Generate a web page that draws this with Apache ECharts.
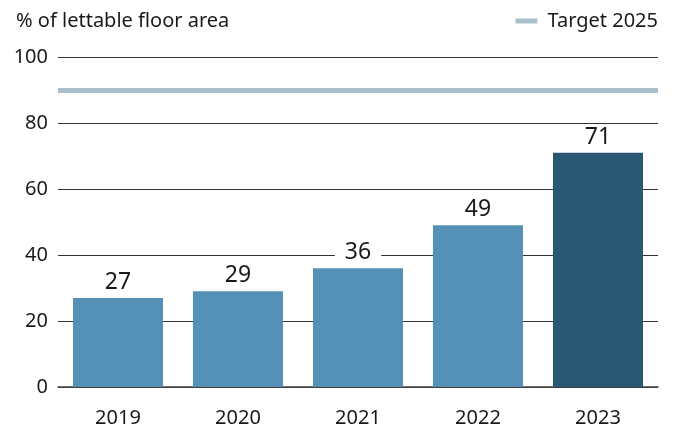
<!DOCTYPE html>
<html>
<head>
<meta charset="utf-8">
<script src="https://cdn.jsdelivr.net/npm/echarts@6/dist/echarts.min.js"></script>
<style>
  html, body { margin: 0; padding: 0; background: #fff; }
  #chart { width: 676px; height: 430px; }
</style>
</head>
<body>
<div id="chart"></div>
<script>
// Share of lettable floor area, by year
const years = ['2019', '2020', '2021', '2022', '2023'];
const shares = [27, 29, 36, 49, 71];
const target2025 = 90;
const yTicks = [0, 20, 40, 60, 80, 100];

const FONT = '"Noto Sans", "Open Sans", sans-serif';
const LIGHT = '#5591b6';
const DARK = '#2a5771';
const TARGET = '#a9bfcc';
const INK = '#1a1a1a';

const chart = echarts.init(document.getElementById('chart'));
chart.setOption({
  animation: false,
  textStyle: { fontFamily: FONT },
  title: {
    text: '% of lettable floor area',
    left: 11,
    top: 6,
    textStyle: { fontFamily: FONT, fontSize: 20, fontWeight: 'normal', color: INK }
  },
  legend: {
    right: 13,
    top: 6,
    data: [{ name: 'Target 2025', icon: 'rect' }],
    itemWidth: 22,
    itemHeight: 5,
    itemGap: 10,
    textStyle: { fontFamily: FONT, fontSize: 20, color: INK, padding: [0, 0, 0, 5] }
  },
  grid: { left: 58, right: 18, top: 57, bottom: 43 },
  xAxis: {
    type: 'category',
    data: years,
    axisTick: { show: false },
    axisLine: { show: true, lineStyle: { color: '#444', width: 1.5 } },
    axisLabel: { fontFamily: FONT, fontSize: 20, color: INK, margin: 21 }
  },
  yAxis: {
    type: 'value',
    min: yTicks[0],
    max: yTicks[yTicks.length - 1],
    interval: yTicks[1] - yTicks[0],
    axisLine: { show: false },
    axisTick: { show: false },
    axisLabel: { fontFamily: FONT, fontSize: 20, color: INK, margin: 10 },
    splitLine: { lineStyle: { color: '#333', width: 1 } }
  },
  series: [
    {
      name: 'Share',
      type: 'bar',
      barWidth: '75%',
      data: shares.map((v, i) => ({
        value: v,
        itemStyle: { color: i === shares.length - 1 ? DARK : LIGHT }
      })),
      label: {
        show: true,
        position: 'top',
        distance: 4,
        fontFamily: FONT,
        fontSize: 23,
        color: INK,
        backgroundColor: '#fff',
        padding: [0, 10, 0, 10]
      }
    },
    {
      name: 'Target 2025',
      type: 'line',
      data: [],
      itemStyle: { color: TARGET },
      lineStyle: { color: TARGET, width: 5 },
      markLine: {
        silent: true,
        symbol: ['none', 'none'],
        label: { show: false },
        lineStyle: { color: TARGET, width: 5, type: 'solid' },
        data: [{ yAxis: target2025 }]
      }
    }
  ]
});
</script>
</body>
</html>
